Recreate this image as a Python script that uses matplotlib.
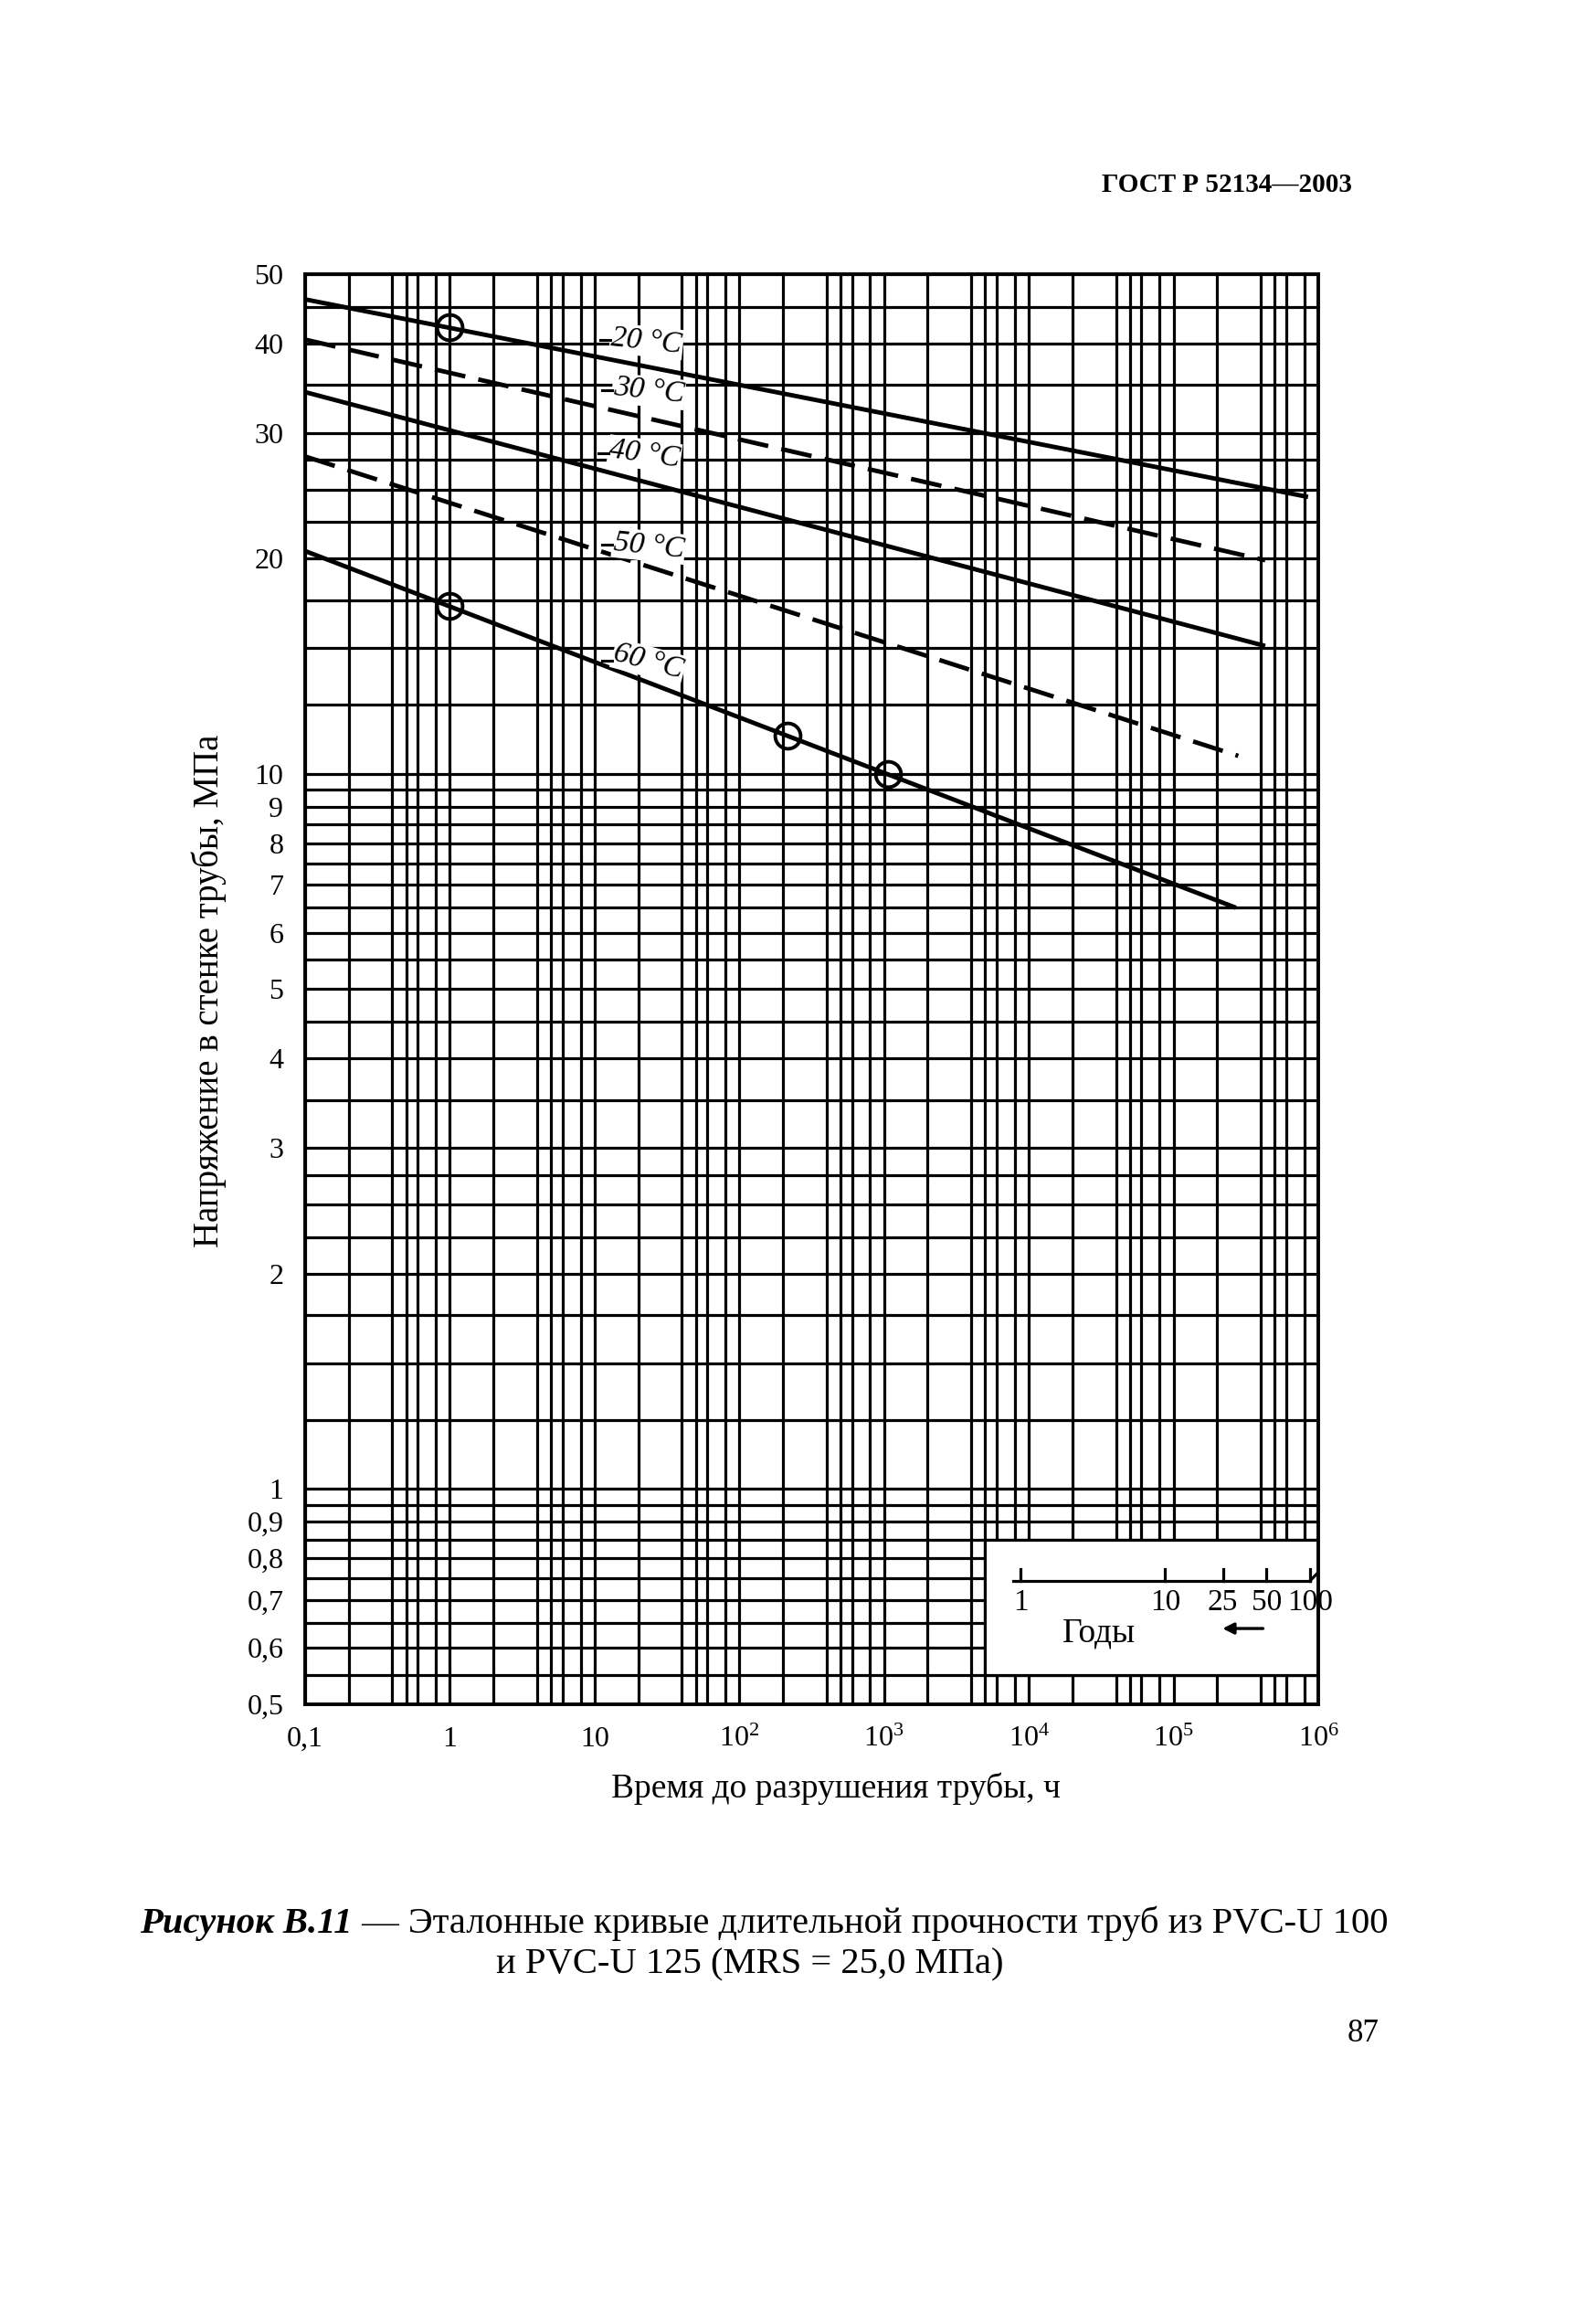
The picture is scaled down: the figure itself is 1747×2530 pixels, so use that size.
import numpy as np
import matplotlib
matplotlib.use("Agg")
import matplotlib.pyplot as plt
from matplotlib.patches import Rectangle
import matplotlib.transforms as mtransforms

# ---------------- data ----------------
# time to failure, h  /  hoop stress, MPa   (straight reference lines, end points)
t_20 = [0.1, 8.5e5]
s_20 = [46.1, 24.4]
t_30 = [0.1, 4.3e5]
s_30 = [40.5, 19.9]
t_40 = [0.1, 4.3e5]
s_40 = [34.2, 15.1]
t_50 = [0.1, 2.8e5]
s_50 = [27.8, 10.6]
t_60 = [0.1, 2.7e5]
s_60 = [20.5, 6.5]

# test points (circles)
pts_t = [1.0, 1.0, 214, 1070]
pts_s = [42.1, 17.2, 11.3, 10.0]

curve_names = ["20 °C", "30 °C", "40 °C", "50 °C", "60 °C"]

x_tick_vals = [0.1, 1, 10, 1e2, 1e3, 1e4, 1e5, 1e6]
x_tick_labels = ["0,1", "1", "10", "$10^2$", "$10^3$", "$10^4$", "$10^5$", "$10^6$"]
y_tick_vals = [0.5, 0.6, 0.7, 0.8, 0.9, 1, 2, 3, 4, 5, 6, 7, 8, 9, 10, 20, 30, 40, 50]
y_tick_labels = ["0,5", "0,6", "0,7", "0,8", "0,9", "1", "2", "3", "4", "5",
                 "6", "7", "8", "9", "10", "20", "30", "40", "50"]

# grid of the chart paper
x_grid_mult = [1, 2, 4, 5, 6, 8]
y_grid_vals = [0.5, 0.55, 0.6, 0.65, 0.7, 0.75, 0.8, 0.85, 0.9, 0.95,
               1, 1.25, 1.5, 1.75, 2, 2.25, 2.5, 2.75, 3, 3.5, 4, 4.5,
               5, 5.5, 6, 6.5, 7, 7.5, 8, 8.5, 9, 9.5,
               10, 12.5, 15, 17.5, 20, 22.5, 25, 27.5, 30, 35, 40, 45, 50]

years_vals = [1, 10, 25, 50, 100]
years_labels = ["1", "10", "25", "50", "100"]
hours_per_year = 8760

# ---------------- style ----------------
FONT = "Liberation Serif"
plt.rcParams["font.family"] = [FONT, "DejaVu Serif"]
plt.rcParams["mathtext.fontset"] = "custom"
plt.rcParams["mathtext.rm"] = FONT
plt.rcParams["mathtext.it"] = FONT + ":italic"
plt.rcParams["mathtext.bf"] = FONT + ":bold"

W, H = 1747, 2530
fig = plt.figure(figsize=(W / 100, H / 100), dpi=100)
fig.patch.set_facecolor("white")

L, R, T, B = 334, 1443, 300, 1865
ax = fig.add_axes([L / W, 1 - B / H, (R - L) / W, (B - T) / H])
ax.set_xscale("log")
ax.set_yscale("log")
ax.set_xlim(0.1, 1e6)
ax.set_ylim(0.5, 50)

GRID_LW = 2.3
for v in [m * 10.0 ** e for e in range(-1, 6) for m in x_grid_mult]:
    ax.axvline(v, color="black", lw=GRID_LW, zorder=1)
for v in y_grid_vals:
    ax.axhline(v, color="black", lw=GRID_LW, zorder=1)

for sp in ax.spines.values():
    sp.set_linewidth(2.8)
    sp.set_zorder(5)

ax.set_xticks(x_tick_vals)
ax.set_xticklabels(x_tick_labels)
ax.set_yticks(y_tick_vals)
ax.set_yticklabels(y_tick_labels)
ax.minorticks_off()
ax.tick_params(axis="both", length=0, labelsize=23)
ax.tick_params(axis="y", pad=17)
ax.tick_params(axis="x", pad=17)

# ---------------- curves ----------------
CLW = 3.5
dash = (0, (7, 3))
ax.plot(t_20, s_20, color="black", lw=CLW, zorder=3, solid_capstyle="butt")
ax.plot(t_30, s_30, color="black", lw=CLW, zorder=3, linestyle=dash)
ax.plot(t_40, s_40, color="black", lw=CLW, zorder=3, solid_capstyle="butt")
ax.plot(t_50, s_50, color="black", lw=CLW, zorder=3, linestyle=dash)
ax.plot(t_60, s_60, color="black", lw=CLW, zorder=3, solid_capstyle="butt")
ax.plot(pts_t, pts_s, linestyle="none", marker="o", markersize=20,
        markerfacecolor="none", markeredgecolor="black", markeredgewidth=2.8, zorder=4)

# curve labels (axes-fraction positions) with short leader strokes
lab_x = [0.337, 0.339, 0.335, 0.339, 0.339]
lab_y = [0.953, 0.918, 0.874, 0.810, 0.729]
lab_rot = [-6, -6, -8, -6, -15]
for name, xx, yy, rr in zip(curve_names, lab_x, lab_y, lab_rot):
    ax.text(xx, yy, name, transform=ax.transAxes, fontsize=24, fontstyle="italic",
            rotation=rr, ha="center", va="center", zorder=6,
            bbox=dict(facecolor="white", edgecolor="none", pad=1.0))
    ax.plot([xx - 0.046, xx - 0.036], [yy + 0.001, yy + 0.001], color="black",
            lw=2.2, transform=ax.transAxes, zorder=7)

# ---------------- inset: years scale ----------------
box = Rectangle((5000, 0.55), 1e6 - 5000, 0.85 - 0.55, facecolor="white",
                edgecolor="black", lw=GRID_LW, zorder=3)
ax.add_patch(box)
blend = mtransforms.blended_transform_factory(ax.transData, ax.transAxes)
yl = 0.0863
hours = [y * hours_per_year for y in years_vals]
ax.plot([7800, hours[-1]], [yl, yl], color="black", lw=2.3, transform=blend, zorder=4)
ax.plot([hours[-1], 1e6], [yl, yl + 0.006], color="black", lw=2.3, transform=blend, zorder=4)
for hv, lb in zip(hours, years_labels):
    ax.plot([hv, hv], [yl, yl + 0.008], color="black", lw=2.3, transform=blend, zorder=4)
    ax.text(hv, yl - 0.0155, lb, transform=blend, ha="center", va="center",
            fontsize=24, zorder=6)
ax.text(0.7836, 0.0498, "Годы", transform=ax.transAxes, ha="center", va="center",
        fontsize=27, zorder=6)
ax.annotate("", xy=(0.903, 0.053), xytext=(0.948, 0.053), xycoords="axes fraction",
            arrowprops=dict(arrowstyle="-|>", color="black", lw=2.4,
                            mutation_scale=18), zorder=6)

# ---------------- page texts ----------------
def fx(px):
    return px / W

def fy(py):
    return 1 - py / H

fig.text(fx(229), fy(1084), "Напряжение в стенке трубы, МПа", rotation=90,
         ha="center", va="center", fontsize=28)
fig.text(fx(915), fy(1957), "Время до разрушения трубы, ч", ha="center",
         va="center", fontsize=27)
fig.text(fx(1343), fy(202), "ГОСТ Р 52134—2003", ha="center", va="center",
         fontsize=21, fontweight="bold")
fig.text(fx(1492), fy(2226), "87", ha="center", va="center", fontsize=25)

cap_size = 26
c1 = fig.text(fx(153), fy(2105), "Рисунок В.11", ha="left", va="center",
              fontsize=cap_size, fontstyle="italic", fontweight="bold")
c2 = fig.text(fx(153), fy(2105), " — Эталонные кривые длительной прочности труб из PVC-U 100",
              ha="left", va="center", fontsize=cap_size)
c3 = fig.text(fx(821), fy(2150), "и PVC-U 125 (MRS = 25,0 МПа)", ha="center",
              va="center", fontsize=cap_size)
fig.canvas.draw()
r = fig.canvas.get_renderer()
tot = c1.get_window_extent(r).width + c2.get_window_extent(r).width
scale = (1521 - 153) / tot
for c in (c1, c2, c3):
    c.set_fontsize(cap_size * scale)
fig.canvas.draw()
w1 = c1.get_window_extent(r).width
c2.set_x(fx(153 + w1))

fig.savefig("out.png", dpi=100, facecolor="white")
